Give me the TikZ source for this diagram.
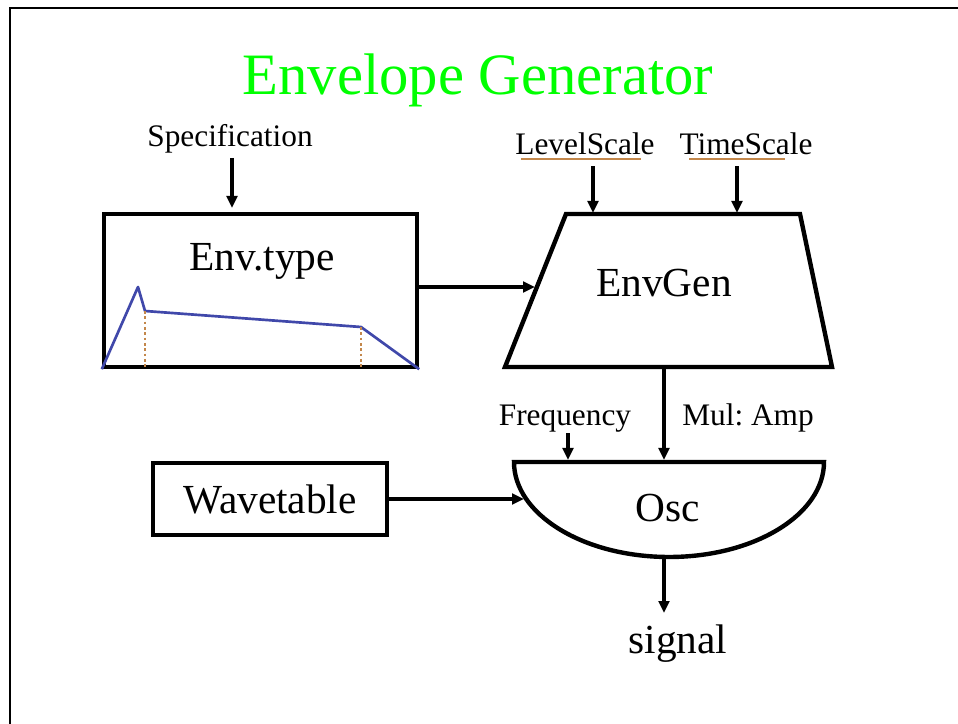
\documentclass[tikz,border=0pt]{standalone}
\usepackage{fontspec}
\setmainfont{Liberation Serif}
\usetikzlibrary{positioning, arrows.meta}

\definecolor{titlegreen}{RGB}{0,255,0}
\definecolor{envblue}{RGB}{64,72,170}
\definecolor{markbrown}{RGB}{195,135,75}

\tikzset{
    blk/.style={draw, line width=3.3pt, inner sep=0pt},
    sig/.style={line width=2.8pt, -{Triangle[length=9pt,width=8pt]}},
    small/.style={font=\fontsize{23.5}{26}\selectfont, inner sep=0pt, anchor=base},
    big/.style={font=\fontsize{31}{34}\selectfont, inner sep=0pt, anchor=base},
}
\frenchspacing

\begin{document}
\begin{tikzpicture}[x=0.75pt, y=0.75pt]
    \useasboundingbox (0,0) rectangle (958,724);
    \draw[line width=2.2pt] (10,0) -- (10,716) -- (958,716);

    \node[font=\fontsize{44}{48}\selectfont, text=titlegreen, anchor=base, inner sep=0pt] (title) at (478,629) {Envelope Generator};

    % envelope type box with its little shape
    \node[blk, minimum width=234.75pt, minimum height=114.75pt] (envtype) at (260.5,433.5) {};
    \node[big] (envtypelbl) at (262,453) {Env.type};
    \draw[envblue, line width=2pt, line join=round] (envtype.south west) -- (138,437) -- (145,413) -- (361,397) -- (envtype.south east);
    \draw[markbrown, line width=2pt, dotted] (145,413) -- (145,357);
    \draw[markbrown, line width=2pt, dotted] (361,397) -- (361,357);

    \node[small] (spec) at (230,577) {Specification};
    \coordinate (envtype-in) at (232,516);
    \draw[sig] ([yshift=-3pt]spec.south -| envtype-in) -- (envtype-in);

    % EnvGen
    \draw[line width=3.3pt] (505,357) -- (566,510) -- (800,510) -- (832,357) -- cycle;
    \node[big] (envgen) at (664,427) {EnvGen};
    \coordinate (envgen-in) at (535,437);
    \coordinate (envgen-lvl) at (593,511);
    \coordinate (envgen-time) at (737,511);
    \coordinate (envgen-out) at (664,357);

    \node[small] (lvl) at (585,569) {LevelScale};
    \node[small] (time) at (746,569) {TimeScale};
    \draw[markbrown, line width=1.4pt] (521,565) -- (641,565);
    \draw[markbrown, line width=1.4pt] (689,565) -- (785,565);
    \draw[sig] ([yshift=-8pt]lvl.south -| envgen-lvl) -- (envgen-lvl);
    \draw[sig] ([yshift=-8pt]time.south -| envgen-time) -- (envgen-time);
    \draw[sig] (envtype.east |- envgen-in) -- (envgen-in);

    % Osc
    \draw[line width=3.3pt] (514,262) -- (824,262) arc[start angle=0, end angle=-180, x radius=155, y radius=95] -- cycle;
    \node[big] (osc) at (668,202) {Osc};
    \coordinate (osc-amp) at (664,264);
    \coordinate (osc-freq) at (568,264);
    \coordinate (osc-wave) at (524,225);
    \coordinate (osc-out) at (664,167);

    \node[small] (freq) at (565,298) {Frequency};
    \node[small] (mul) at (748,298) {Mul: Amp};
    \draw[sig] (freq.south -| osc-freq) -- (osc-freq);
    \draw[sig] (envgen-out) -- (osc-amp);

    \node[blk, minimum width=175.5pt, minimum height=54pt, font=\fontsize{31}{34}\selectfont] (wave) at (270,225) {Wavetable};
    \draw[sig] (wave.east) -- (osc-wave);

    \node[big] (signal) at (678,70) {signal};
    \draw[sig] (osc-out) -- ([yshift=9pt]signal.north -| osc-out);
\end{tikzpicture}
\end{document}
